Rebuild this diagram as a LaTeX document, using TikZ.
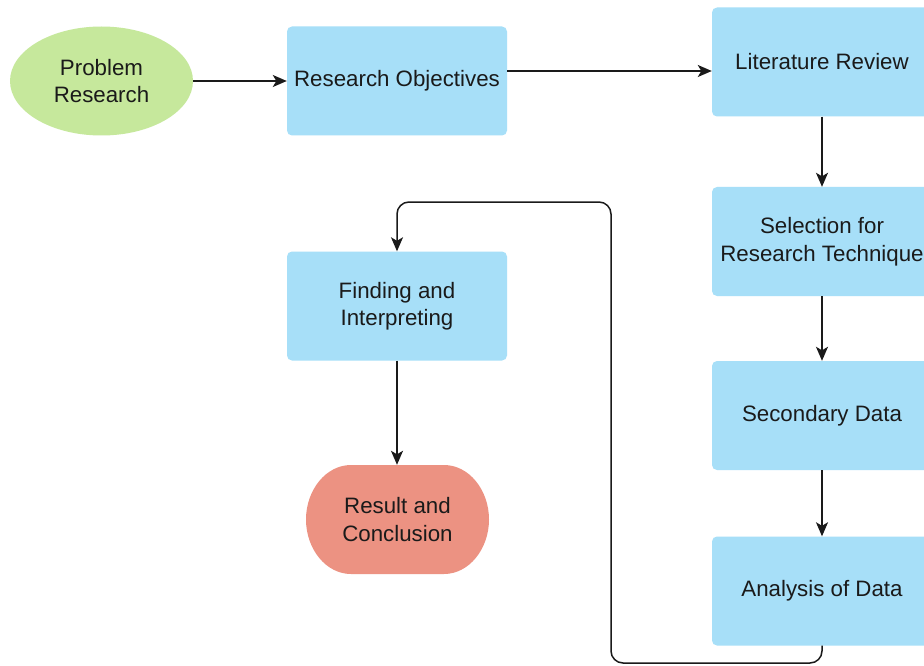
\documentclass[tikz,border=0pt]{standalone}
\usepackage{fontspec}
\setmainfont{Liberation Sans}
\usetikzlibrary{arrows.meta,calc,shapes.geometric}
\definecolor{boxblue}{HTML}{A7DFF8}
\definecolor{okgreen}{HTML}{C6E89C}
\definecolor{salmon}{HTML}{EC9282}
\definecolor{ink}{HTML}{1A1A1A}
\begin{document}
\begin{tikzpicture}[x=1pt,y=-1pt,
  every node/.style={font=\fontsize{22.3}{27.5}\selectfont, text=ink, align=center},
  bluebox/.style={rectangle, fill=boxblue, rounded corners=5pt, minimum width=220pt, minimum height=109pt, inner sep=0pt},
  startnode/.style={ellipse, fill=okgreen, minimum width=183pt, minimum height=109pt, inner sep=0pt},
  endnode/.style={rectangle, minimum width=183pt, minimum height=109pt, inner sep=0pt},
  conn/.style={draw=ink, line width=1.5pt, -{Stealth[length=14pt,width=12pt,inset=3.5pt]}}
]
\clip (0,0) rectangle (924,666);
\fill[white] (0,0) rectangle (924,666);

\node[startnode] (pr) at (101.5,81) {Problem\\Research};
\node[bluebox] (ro) at (397,81) {Research Objectives};
\node[bluebox] (lr) at (822,62) {Literature Review};
\node[bluebox] (sel) at (822,241.5) {Selection for\\Research Technique};
\node[bluebox] (sd) at (822,415.5) {Secondary Data};
\node[bluebox] (ad) at (822,591) {Analysis of Data};
\node[bluebox] (fi) at (397,306) {Finding and\\Interpreting};

% result stadium shape
\fill[salmon] (351,465) -- (444,465)
  .. controls (469,465) and (489,490) .. (489,519.5)
  .. controls (489,549) and (469,574) .. (444,574)
  -- (351,574)
  .. controls (326,574) and (306,549) .. (306,519.5)
  .. controls (306,490) and (326,465) .. (351,465) -- cycle;
\node[endnode] (rc) at (397.5,519.5) {Result and\\Conclusion};

\coordinate (c1) at (611,663);
\coordinate (c2) at (611,202);

\draw[conn] (pr.east) -- (pr.east -| ro.west);
\draw[conn] ([yshift=10pt]ro.east) -- ([yshift=10pt]ro.east -| lr.west);
\draw[conn] (lr.south) -- (sel.north);
\draw[conn] (sel.south) -- (sd.north);
\draw[conn] (sd.south) -- (ad.north);
\draw[conn] (fi.south) -- (fi.south |- rc.north);
\draw[conn, rounded corners=12pt] (ad.south) |- (c1) -- (c2) -| (fi.north);
\end{tikzpicture}
\end{document}
